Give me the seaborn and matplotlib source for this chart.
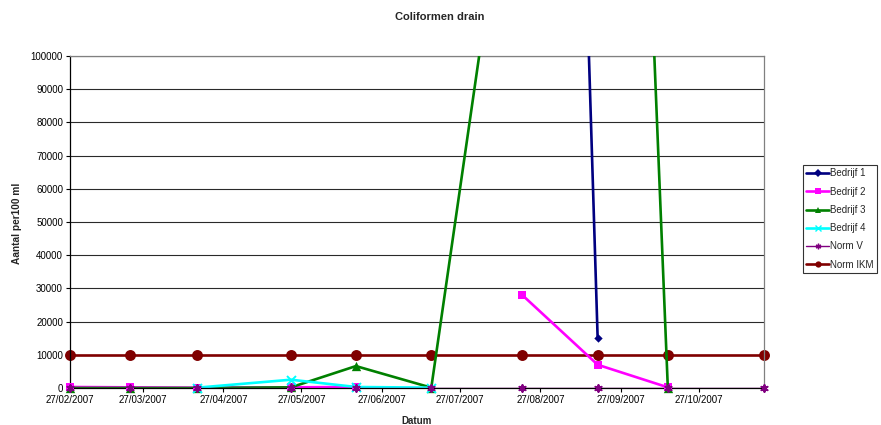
import numpy as np
import pandas as pd
import matplotlib
matplotlib.use("Agg")
import matplotlib.pyplot as plt
import matplotlib.dates as mdates
from matplotlib.lines import Line2D
import seaborn as sns

nan = np.nan

# Meetdata
datums = ["2007-02-27", "2007-03-22", "2007-04-17", "2007-05-23", "2007-06-17",
          "2007-07-16", "2007-08-20", "2007-09-18", "2007-10-15", "2007-11-21"]
bedrijf1 = [nan, nan, nan, nan, nan, nan, 750000, 15000, nan, nan]
bedrijf2 = [300, 200, 100, 200, 300, nan, 28000, 7000, 200, nan]
bedrijf3 = [0, 0, 0, 200, 6600, 100, 190000, 520000, 0, nan]
bedrijf4 = [nan, nan, 100, 2500, 300, 100, nan, nan, nan, nan]
norm_v = [0, 0, 0, 0, 0, 0, 0, 0, 0, 0]
norm_ikm = [10000, 10000, 10000, 10000, 10000, 10000, 10000, 10000, 10000, 10000]
tick_datums = ["2007-02-27", "2007-03-27", "2007-04-27", "2007-05-27", "2007-06-27",
               "2007-07-27", "2007-08-27", "2007-09-27", "2007-10-27"]

series = [
    # naam, waarden, kleur, marker, markergrootte, lijndikte, zorder
    ("Bedrijf 1", bedrijf1, "#000080", "D", 18, 1.9, 3),
    ("Bedrijf 2", bedrijf2, "#FF00FF", "s", 38, 1.9, 4),
    ("Bedrijf 3", bedrijf3, "#008000", "^", 45, 1.9, 5),
    ("Bedrijf 4", bedrijf4, "#00FFFF", "x", 42, 1.9, 6),
    ("Norm V", norm_v, "#800080", (6, 2, 0), 24, 1.0, 7),
    ("Norm IKM", norm_ikm, "#800000", "o", 62, 1.9, 2),
]

sns.set_style("white")
plt.rcParams["font.family"] = ["Liberation Sans", "DejaVu Sans"]

fig = plt.figure(figsize=(8.81, 4.25), dpi=100)
ax = fig.add_axes([70 / 881, 1 - 388 / 425, (764 - 70) / 881, (388 - 56) / 425])

x = pd.to_datetime(datums)
handles = []
for naam, waarden, kleur, marker, ms, lw, z in series:
    df = pd.DataFrame({"datum": x, "waarde": waarden})
    # segmenten zodat ontbrekende waarden een gat geven
    df["seg"] = df["waarde"].isna().cumsum()
    df = df.dropna()
    sns.lineplot(data=df, x="datum", y="waarde", units="seg", estimator=None,
                 color=kleur, linewidth=lw, ax=ax, zorder=z)
    sns.scatterplot(data=df, x="datum", y="waarde", color=kleur, marker=marker,
                    s=ms, linewidth=1.4 if marker in ("x", (6, 2, 0)) else 0,
                    edgecolor=kleur, ax=ax, zorder=z + 0.5, clip_on=False, legend=False)
    handles.append(Line2D([], [], color=kleur, lw=lw, marker=marker,
                          markersize=4 if marker != "o" else 4.5,
                          markeredgewidth=1 if marker in ("x", (6, 2, 0)) else 0,
                          label=naam))

ax.set_ylim(0, 100000)
ax.set_yticks(range(0, 100001, 10000))
ax.set_xlim(x[0], x[-1])
ax.set_xticks(pd.to_datetime(tick_datums))
ax.xaxis.set_major_formatter(mdates.DateFormatter("%d/%m/%Y"))
ax.yaxis.grid(True, color="#2a2a2a", linewidth=0.8)
ax.set_axisbelow(True)
ax.tick_params(axis="both", labelsize=7, length=3, width=0.8, direction="out",
               bottom=True, left=True, pad=2, colors="black")
ax.set_xlabel("")
ax.set_ylabel("")
for side in ["left", "bottom"]:
    ax.spines[side].set_color("black")
    ax.spines[side].set_linewidth(0.9)
for side in ["top", "right"]:
    ax.spines[side].set_color("#808080")
    ax.spines[side].set_linewidth(0.9)
    ax.spines[side].set_visible(True)

fig.text(440 / 881, 1 - 17 / 425, "Coliformen drain", ha="center", va="center",
         fontsize=8, fontweight="bold")
fig.text(417 / 881, 1 - 421 / 425, "Datum", ha="center", va="center",
         fontsize=7, fontweight="bold")
fig.text(17 / 881, 1 - 223 / 425, "Aantal per100 ml", ha="center", va="center",
         rotation=90, fontsize=7.3, fontweight="bold")

leg = fig.legend(handles=handles, loc="upper left", bbox_to_anchor=(803 / 881, 1 - 165 / 425),
                 fontsize=7, frameon=True, fancybox=False, edgecolor="black",
                 handlelength=2.3, labelspacing=0.85, borderpad=0.35, handletextpad=0.1,
                 borderaxespad=0)
leg.get_frame().set_linewidth(0.8)

fig.savefig("out.png", dpi=100)
